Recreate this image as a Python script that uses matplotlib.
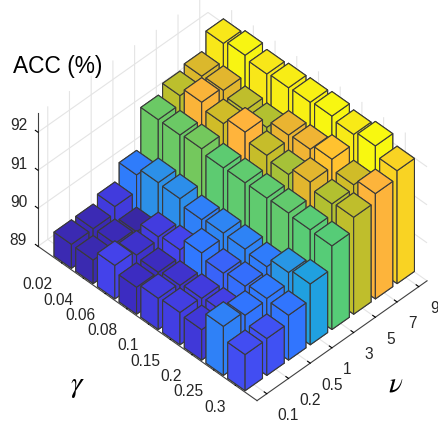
import matplotlib
matplotlib.use('Agg')
import matplotlib.pyplot as plt
from matplotlib.colors import LinearSegmentedColormap, Normalize

plt.rcParams['font.family'] = ['Liberation Sans', 'DejaVu Sans']
plt.rcParams['mathtext.fontset'] = 'stix'

gamma_labels = ['0.02', '0.04', '0.06', '0.08', '0.1', '0.15', '0.2', '0.25', '0.3']
nu_labels = ['0.1', '0.2', '0.5', '1', '3', '5', '7', '9']
z_ticks = [89, 90, 91, 92]

# ACC per nu, one value per gamma
acc_nu_01 = [89.63, 89.62, 89.88, 89.71, 89.82, 89.85, 89.80, 90.29, 89.95]
acc_nu_02 = [89.64, 89.65, 89.75, 89.70, 89.76, 89.82, 89.86, 90.18, 89.97]
acc_nu_05 = [89.82, 89.56, 89.83, 89.89, 90.21, 90.08, 90.14, 90.22, 90.18]
acc_nu_1 = [90.25, 90.45, 90.43, 90.28, 90.33, 90.31, 90.25, 90.50, 90.60]
acc_nu_3 = [91.30, 91.30, 91.34, 91.24, 91.25, 91.25, 91.26, 91.22, 91.20]
acc_nu_5 = [91.53, 91.76, 91.60, 91.78, 91.57, 91.47, 91.67, 91.50, 91.55]
acc_nu_7 = [91.64, 91.67, 91.54, 91.50, 91.70, 91.73, 91.87, 91.60, 91.77]
acc_nu_9 = [92.10, 92.19, 92.10, 92.14, 92.16, 92.20, 92.12, 92.22, 91.97]
acc = [acc_nu_01, acc_nu_02, acc_nu_05, acc_nu_1, acc_nu_3, acc_nu_5, acc_nu_7, acc_nu_9]

# colours, by height
z_min, z_max = 89.5, 92.22
anchors = [(89.5, '#38269a'), (89.7, '#3c2cc0'), (89.9, '#4545f0'), (90.2, '#3078ff'),
           (90.45, '#2c90e8'), (90.6, '#20a0e0'), (91.2, '#55cc78'), (91.35, '#75c85c'),
           (91.5, '#b0c030'), (91.6, '#d0bc28'), (91.7, '#e8b430'), (91.78, '#ffb43c'),
           (91.87, '#ffc030'), (92.0, '#f8d820'), (92.22, '#f8f810')]
cmap = LinearSegmentedColormap.from_list(
    'acc', [((v - z_min) / (z_max - z_min), c) for v, c in anchors])
norm = Normalize(z_min, z_max)

fig = plt.figure(figsize=(4.38, 4.23), dpi=100)
ax = fig.add_axes([7.8 / 438, 8.75 / 423, 1, 1], projection='3d')
ax.set_proj_type('ortho')
ax.computed_zorder = False

for i in range(len(gamma_labels)):
    for j in reversed(range(len(nu_labels))):
        h = acc[j][i]
        ax.bar3d(i + 1 - 0.4, j + 1 - 0.4, 89, 0.8, 0.8, h - 89, color=cmap(norm(h)),
                 shade=False, edgecolor='#3a3a3a', linewidth=0.8, zorder=18 + i - j)

ax.set_xlim(-0.09, 10, view_margin=0)
ax.set_ylim(0.55, 8.38, view_margin=0)
ax.set_zlim(89, 92.5, view_margin=0)
ax.set_box_aspect((10.09, 7.83, 6.107), zoom=0.9975)
ax.view_init(elev=44.8, azim=-45)

ax.set_xticks(range(1, 10))
ax.set_xticklabels(gamma_labels, fontsize=11.2, color='#262626', ha='right')
ax.set_yticks(range(1, 9))
ax.set_yticklabels(nu_labels, fontsize=11.2, color='#262626', ha='left')
ax.set_zticks(z_ticks)
ax.set_zticklabels([str(z) for z in z_ticks], fontsize=11.2, color='#262626', va='baseline')

for axis in (ax.xaxis, ax.yaxis, ax.zaxis):
    axis.set_pane_color((1, 1, 1, 1))
    axis.pane.set_edgecolor('none')
    axis.line.set_color('#404040')
    axis.line.set_linewidth(0.8)
    axis._axinfo['grid']['color'] = '#e4e4e4'
    axis._axinfo['grid']['linewidth'] = 0.8
    axis._axinfo['tick']['color'] = '#404040'
    axis._axinfo['tick']['linewidth'] = {True: 0.8, False: 0.5}
    axis._axinfo['tick']['inward_factor'] = 0.0
    axis._axinfo['tick']['outward_factor'] = 0.15
ax.zaxis._axinfo['juggled'] = (1, 2, 0)
ax.tick_params(axis='x', pad=1)
ax.tick_params(axis='y', pad=0)
ax.tick_params(axis='z', pad=0)

fig.text(13 / 438, 1 - 67 / 423, 'ACC (%)', fontsize=16.4, color='black', va='center')
fig.text(77 / 438, 1 - 386 / 423, r'$\gamma$', fontsize=21, color='black', ha='center', va='center')
fig.text(396 / 438, 1 - 383 / 423, r'$\nu$', fontsize=21, color='black', ha='center', va='center')

fig.savefig('out.png', dpi=100)
